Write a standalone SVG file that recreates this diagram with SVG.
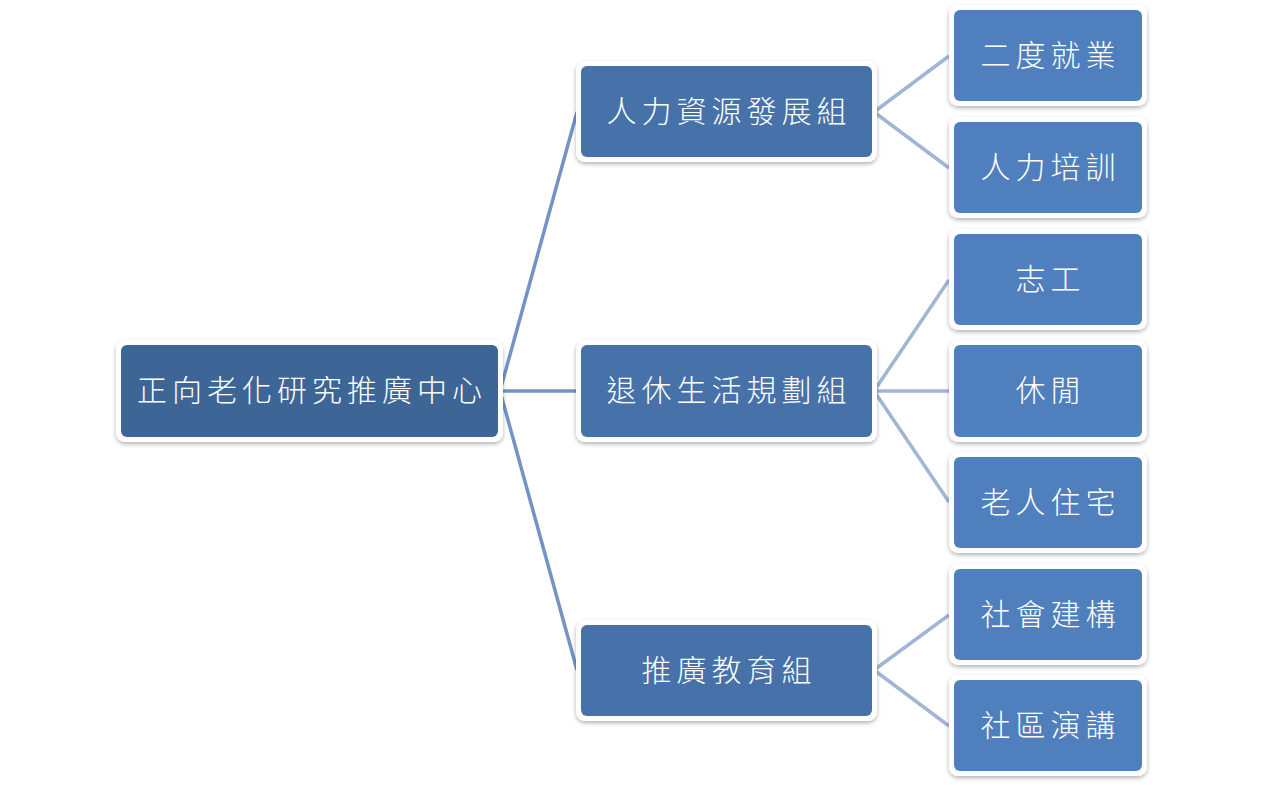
<svg xmlns="http://www.w3.org/2000/svg" width="1264" height="787" viewBox="0 0 1264 787">
<defs>
<filter id="sh" x="-10%" y="-10%" width="120%" height="130%">
<feDropShadow dx="0" dy="2" stdDeviation="2" flood-color="#000" flood-opacity="0.3"/>
</filter>
</defs>
<style>
.frame{fill:#fff;filter:url(#sh)}
.root{fill:#3d6596}
.mid{fill:#4672a9}
.leaf{fill:#4f80bd}
.t{fill:#fff;font-family:"Noto Sans CJK TC","Noto Sans CJK SC",sans-serif;font-size:30px;font-weight:300;letter-spacing:5px;text-anchor:middle;dominant-baseline:central}
.c1{stroke:#7393c6;stroke-width:3.5;fill:none}
.c2{stroke:#a2b5d7;stroke-width:3.5;fill:none}
</style>
<rect width="1264" height="787" fill="#fff"/>
<g id="connectors">
<path class="c1" d="M500 391 L577 112 M500 391 L577 391 M500 391 L577 670"/>
<path class="c2" d="M874 112 L949 56 M874 112 L949 168"/>
<path class="c2" d="M874 391 L949 280 M874 391 L949 391 M874 391 L949 502"/>
<path class="c2" d="M874 670 L949 615 M874 670 L949 726"/>
</g>
<g id="root">
<rect class="frame" x="116" y="340" width="387" height="102" rx="9"/>
<rect class="root" x="121" y="345" width="377" height="92" rx="6"/>
<text class="t" x="312" y="388">正向老化研究推廣中心</text>
</g>
<g id="mid1">
<rect class="frame" x="576" y="61" width="301" height="101" rx="9"/>
<rect class="mid" x="581" y="66" width="291" height="91" rx="6"/>
<text class="t" x="729" y="109">人力資源發展組</text>
</g>
<g id="mid2">
<rect class="frame" x="576" y="340" width="301" height="102" rx="9"/>
<rect class="mid" x="581" y="345" width="291" height="92" rx="6"/>
<text class="t" x="729" y="388">退休生活規劃組</text>
</g>
<g id="mid3">
<rect class="frame" x="576" y="620" width="301" height="101" rx="9"/>
<rect class="mid" x="581" y="625" width="291" height="91" rx="6"/>
<text class="t" x="729" y="668">推廣教育組</text>
</g>
<g id="leaf1">
<rect class="frame" x="949" y="5" width="198" height="101" rx="9"/>
<rect class="leaf" x="954" y="10" width="188" height="91" rx="6"/>
<text class="t" x="1050.5" y="53">二度就業</text>
</g>
<g id="leaf2">
<rect class="frame" x="949" y="117" width="198" height="101" rx="9"/>
<rect class="leaf" x="954" y="122" width="188" height="91" rx="6"/>
<text class="t" x="1050.5" y="165">人力培訓</text>
</g>
<g id="leaf3">
<rect class="frame" x="949" y="229" width="198" height="101" rx="9"/>
<rect class="leaf" x="954" y="234" width="188" height="91" rx="6"/>
<text class="t" x="1050.5" y="277">志工</text>
</g>
<g id="leaf4">
<rect class="frame" x="949" y="340" width="198" height="102" rx="9"/>
<rect class="leaf" x="954" y="345" width="188" height="92" rx="6"/>
<text class="t" x="1050.5" y="388">休閒</text>
</g>
<g id="leaf5">
<rect class="frame" x="949" y="452" width="198" height="101" rx="9"/>
<rect class="leaf" x="954" y="457" width="188" height="91" rx="6"/>
<text class="t" x="1050.5" y="500">老人住宅</text>
</g>
<g id="leaf6">
<rect class="frame" x="949" y="564" width="198" height="101" rx="9"/>
<rect class="leaf" x="954" y="569" width="188" height="91" rx="6"/>
<text class="t" x="1050.5" y="612">社會建構</text>
</g>
<g id="leaf7">
<rect class="frame" x="949" y="675" width="198" height="101" rx="9"/>
<rect class="leaf" x="954" y="680" width="188" height="91" rx="6"/>
<text class="t" x="1050.5" y="723">社區演講</text>
</g>
</svg>
